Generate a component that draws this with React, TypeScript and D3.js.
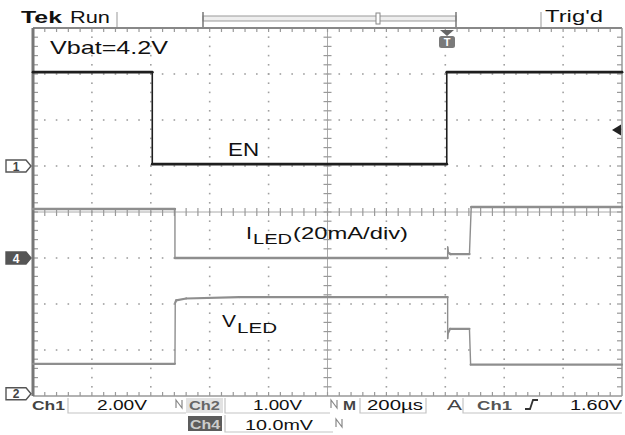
import React from "react";
import * as d3 from "d3";

// Screen geometry of the scope graticule
const WIDTH = 625;
const HEIGHT = 435;
const GRID = { left: 33, top: 28, right: 622, bottom: 396 };
const X_DIVS = 10;
const Y_DIVS = 8;
const MINOR = 5;

// Horizontal time base: 200 µs/div, 10 divisions
const timeDomain = [0, 2000];

// Ch1 — EN (V), 2.00 V/div, ground at division 3 from the top
const enTime = [0, 405, 405, 1405, 1405, 2000];
const enVolts = [4.08, 4.08, 0.08, 0.08, 4.08, 4.08];

// Ch4 — LED current (mA), 20 mA/div, ground at division 5 from the top
const iledTime = [0, 482, 482, 1408, 1408, 1411, 1418, 1482, 1488, 2000];
const iledMilliamps = [21.3, 21.3, 0, 0, 4.8, 2.2, 1.7, 1.7, 22.2, 22.2];

// Ch2 — LED voltage (V), 1.00 V/div, ground at the bottom division
const vledTime = [0, 482, 483, 486, 520, 700, 1408, 1408, 1410, 1416, 1482, 1486, 2000];
const vledVolts = [0.65, 0.65, 1.98, 2.03, 2.07, 2.1, 2.1, 1.2, 1.33, 1.41, 1.41, 0.63, 0.63];

type Channel = { name: string; ground: number; perDiv: number };
const ch1: Channel = { name: "1", ground: 3, perDiv: 2 };
const ch4: Channel = { name: "4", ground: 5, perDiv: 20 };
const ch2: Channel = { name: "2", ground: 7.95, perDiv: 1 };

const FONT = "'Liberation Sans', Arial, Helvetica, sans-serif";

export default function App() {
  const divW = (GRID.right - GRID.left) / X_DIVS;
  const divH = (GRID.bottom - GRID.top) / Y_DIVS;

  const x = d3.scaleLinear().domain(timeDomain).range([GRID.left, GRID.right]);
  const gy = d3.scaleLinear().domain([0, Y_DIVS]).range([GRID.top, GRID.bottom]);
  const chScale = (c: Channel) => {
    const g = gy(c.ground);
    return d3.scaleLinear().domain([0, c.perDiv]).range([g, g - divH]);
  };

  // Level segments are drawn heavy; fast edges lighter, as on the scope display
  const trace = (t: number[], v: number[], c: Channel, color: string, w: number, edgeW: number, key: string) => {
    const y = chScale(c);
    const line = d3
      .line<number>()
      .x((i) => x(t[i]))
      .y((i) => y(v[i]));
    const idx = d3.range(t.length);
    const levels: JSX.Element[] = [];
    const edges: JSX.Element[] = [];
    d3.pairs(idx).forEach(([a, b], n) => {
      const isEdge = x(t[b]) - x(t[a]) < 2 && Math.abs(y(v[b]) - y(v[a])) > 4;
      (isEdge ? edges : levels).push(
        <path key={`${key}${n}`} d={line([a, b]) || ""} fill="none" stroke={color} strokeWidth={isEdge ? edgeW : w} strokeLinecap="round" />
      );
    });
    return (
      <g key={key}>
        {edges}
        {levels}
      </g>
    );
  };

  const cx = GRID.left + (X_DIVS / 2) * divW;
  const cy = GRID.top + (Y_DIVS / 2) * divH;

  // dotted graticule
  const dots: JSX.Element[] = [];
  for (let i = 1; i < X_DIVS; i++) {
    if (i === X_DIVS / 2) continue;
    const xx = GRID.left + i * divW;
    for (let k = 1; k < Y_DIVS * MINOR; k++) {
      const yy = GRID.top + (k * divH) / MINOR;
      dots.push(<rect key={`v${i}-${k}`} x={xx - 0.8} y={yy - 0.8} width={1.6} height={1.6} fill="#a0a0a0" />);
    }
  }
  for (let j = 1; j < Y_DIVS; j++) {
    if (j === Y_DIVS / 2) continue;
    const yy = GRID.top + j * divH;
    for (let k = 1; k < X_DIVS * MINOR; k++) {
      const xx = GRID.left + (k * divW) / MINOR;
      dots.push(<rect key={`h${j}-${k}`} x={xx - 0.8} y={yy - 0.8} width={1.6} height={1.6} fill="#a0a0a0" />);
    }
  }

  // ticks on the centre axes and the frame
  const ticks: JSX.Element[] = [];
  for (let k = 1; k < X_DIVS * MINOR; k++) {
    const xx = GRID.left + (k * divW) / MINOR;
    ticks.push(<line key={`cxh${k}`} x1={xx} x2={xx} y1={cy - 4} y2={cy + 4} />);
    ticks.push(<line key={`tb${k}`} x1={xx} x2={xx} y1={GRID.top} y2={GRID.top + 4} />);
    ticks.push(<line key={`bb${k}`} x1={xx} x2={xx} y1={GRID.bottom - 4} y2={GRID.bottom} />);
  }
  for (let k = 1; k < Y_DIVS * MINOR; k++) {
    const yy = GRID.top + (k * divH) / MINOR;
    ticks.push(<line key={`cyv${k}`} x1={cx - 4} x2={cx + 4} y1={yy} y2={yy} />);
    ticks.push(<line key={`lb${k}`} x1={GRID.left} x2={GRID.left + 5} y1={yy} y2={yy} />);
    ticks.push(<line key={`rb${k}`} x1={GRID.right - 5} x2={GRID.right} y1={yy} y2={yy} />);
  }

  const marker = (c: Channel, filled: boolean) => {
    const yy = gy(c.ground);
    const p = `M6,${yy - 6} L26,${yy - 6} L31,${yy} L26,${yy + 6} L6,${yy + 6} Z`;
    return (
      <g key={`m${c.name}`}>
        <path d={p} fill={filled ? "#555" : "#fff"} stroke="#555" strokeWidth={1.4} />
        <text x={16} y={yy + 4.5} fontSize={12} fontFamily={FONT} fontWeight="bold" textAnchor="middle" fill={filled ? "#fff" : "#444"}>
          {c.name}
        </text>
      </g>
    );
  };

  const T = (props: any) => <text fontFamily={FONT} lengthAdjust="spacingAndGlyphs" {...props} />;

  const bwIcon = (x0: number, y0: number) => (
    <path d={`M${x0},${y0 + 8} L${x0},${y0} L${x0 + 6},${y0 + 8} L${x0 + 6},${y0}`} fill="none" stroke="#888" strokeWidth={1.2} />
  );

  return (
    <svg width={WIDTH} height={HEIGHT} style={{ position: "absolute", left: 0, top: 0, background: "#fff" }}>
      <rect width={WIDTH} height={HEIGHT} fill="#fff" />

      {/* header */}
      <T x={21} y={23} fontSize={16.5} fontWeight="bold" textLength={41} fill="#111">Tek</T>
      <T x={70} y={23} fontSize={16.5} textLength={40} fill="#111">Run</T>
      <line x1={117} x2={117} y1={12} y2={28} stroke="#bbb" strokeWidth={1.5} />
      <line x1={541} x2={541} y1={12} y2={28} stroke="#bbb" strokeWidth={1.5} />
      <T x={545} y={22} fontSize={16.5} textLength={58} fill="#111">Trig'd</T>
      {/* record-position bar */}
      <rect x={203} y={16} width={253} height={5} fill="#eee" stroke="#999" strokeWidth={1} />
      <line x1={203} x2={203} y1={12} y2={27} stroke="#777" strokeWidth={1.5} />
      <line x1={456} x2={456} y1={12} y2={27} stroke="#777" strokeWidth={1.5} />
      <rect x={376} y={13} width={4} height={11} fill="#fff" stroke="#888" strokeWidth={1} />

      {/* graticule */}
      <g>{dots}</g>
      <line x1={cx} x2={cx} y1={GRID.top} y2={GRID.bottom} stroke="#aaa" strokeWidth={1} />
      <line x1={GRID.left} x2={GRID.right} y1={cy} y2={cy} stroke="#aaa" strokeWidth={1} />
      <g stroke="#999" strokeWidth={1.2}>{ticks}</g>
      <line x1={GRID.left} x2={GRID.right} y1={GRID.top} y2={GRID.top} stroke="#888" strokeWidth={2} />
      <line x1={GRID.left} x2={GRID.right} y1={GRID.bottom} y2={GRID.bottom} stroke="#999" strokeWidth={1.5} />
      <line x1={GRID.right} x2={GRID.right} y1={GRID.top} y2={GRID.bottom} stroke="#999" strokeWidth={1.5} />
      <line x1={GRID.left} x2={GRID.left} y1={GRID.top} y2={GRID.bottom} stroke="#777" strokeWidth={3} />

      {/* trigger position and level markers */}
      <path d={`M440,30 L454,30 L447,36 Z`} fill="#666" />
      <rect x={439} y={36} width={16} height={12} rx={2.5} fill="#7a7a7a" />
      <T x={447} y={46} fontSize={11} fontWeight="bold" textAnchor="middle" fill="#fff">T</T>
      <path d={`M612,130 L621,124.5 L621,135.5 Z`} fill="#222" />

      {/* traces */}
      {trace(iledTime, iledMilliamps, ch4, "#8e8e8e", 2.4, 1.4, "iled")}
      {trace(vledTime, vledVolts, ch2, "#8e8e8e", 2.2, 1.4, "vled")}
      {trace(enTime, enVolts, ch1, "#1e1e1e", 2.8, 1.6, "en")}

      {/* channel ground markers */}
      {marker(ch1, false)}
      {marker(ch4, true)}
      {marker(ch2, false)}

      {/* annotations */}
      <T x={50} y={54} fontSize={19} textLength={118} fill="#111">Vbat=4.2V</T>
      <T x={228} y={156} fontSize={18} textLength={31} fill="#111">EN</T>
      <T x={246} y={239} fontSize={17} textLength={6} fill="#111">I</T>
      <T x={253} y={244} fontSize={14} textLength={39} fill="#111">LED</T>
      <T x={293} y={239} fontSize={17} textLength={115} fill="#111">(20mA/div)</T>
      <T x={222} y={327} fontSize={17} textLength={14} fill="#111">V</T>
      <T x={237} y={333} fontSize={14} textLength={40} fill="#111">LED</T>

      {/* status bar */}
      <g fill="none" stroke="#c4c4c4" strokeWidth={1.2}>
        <path d="M68,398 L68,413 L186,413" />
        <path d="M225,398 L225,413 L330,413" />
        <path d="M360,398 L360,413 L426,413 L426,398" />
        <path d="M463,398 L463,413 L622,413" />
        <path d="M225,415 L225,432 L333,432" />
      </g>
      <rect x={186} y={398} width={37} height={15} fill="#e2e2e2" />
      <rect x={188} y={416} width={34} height={15} fill="#5c5c5c" />
      <T x={32} y={409.5} fontSize={13} fontWeight="bold" textLength={33} fill="#444">Ch1</T>
      <T x={97} y={410} fontSize={14} textLength={50} fill="#111">2.00V</T>
      {bwIcon(176, 400)}
      <T x={189} y={409.5} fontSize={13} fontWeight="bold" textLength={31} fill="#666">Ch2</T>
      <T x={253} y={410} fontSize={14} textLength={49} fill="#111">1.00V</T>
      {bwIcon(331, 400)}
      <T x={343} y={410} fontSize={13} fontWeight="bold" textLength={13} fill="#444">M</T>
      <T x={367} y={410} fontSize={14} textLength={56} fill="#111">200µs</T>
      <T x={447} y={410} fontSize={14} textLength={15} fill="#444">A</T>
      <T x={477} y={409.5} fontSize={13} fontWeight="bold" textLength={35} fill="#555">Ch1</T>
      <path d="M525,409 L530,409 L533,400 L538,400" fill="none" stroke="#333" strokeWidth={1.8} />
      <T x={570} y={410} fontSize={14} textLength={52} fill="#111">1.60V</T>
      <T x={190} y={428.5} fontSize={12} fontWeight="bold" textLength={30} fill="#ccc">Ch4</T>
      <T x={245} y={430} fontSize={14} textLength={68} fill="#111">10.0mV</T>
      {bwIcon(336, 419)}
    </svg>
  );
}
